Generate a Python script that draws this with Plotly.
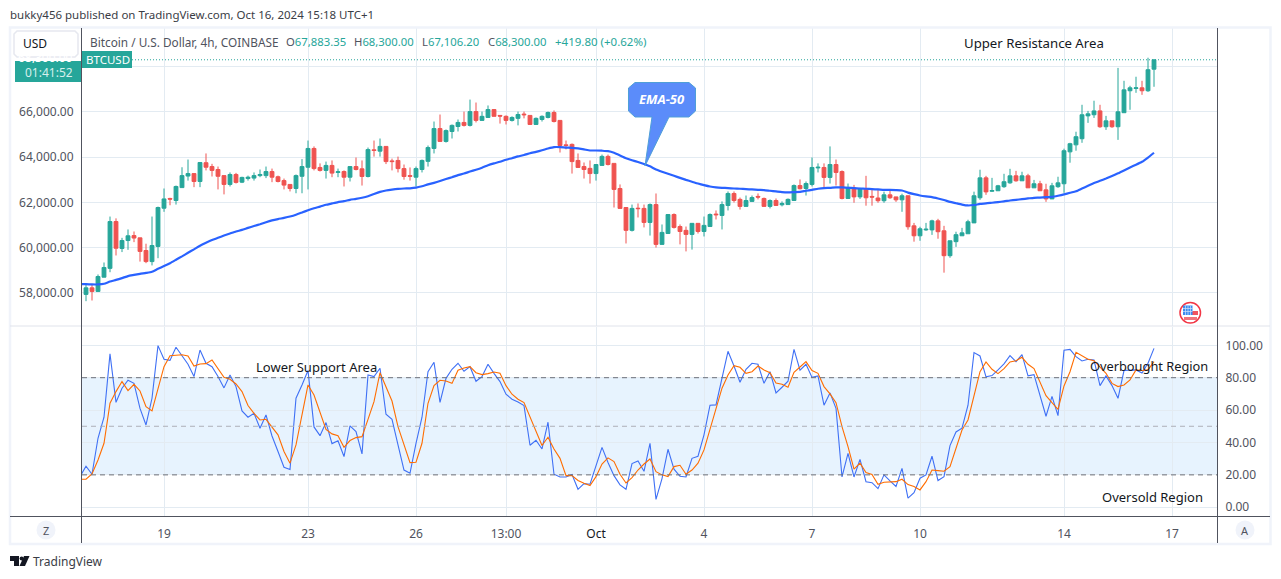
import pandas as pd
import plotly.graph_objects as go

# 4h candles
opens = [57930,58220,58060,58690,59080,61150,59960,60310,60530,60430,
         59870,59380,60050,61740,62170,62080,62650,63160,63270,62920,
         63750,63580,63450,63180,62790,63230,62890,63050,63070,63180,
         63180,63360,63130,62960,62790,62610,63150,63550,64380,63540,
         63410,63630,63320,63360,63110,63580,63480,63140,64320,64260,
         64470,63830,63850,63490,63180,63110,63450,63810,64380,65260,
         64690,65130,65350,65530,65400,66010,65620,65750,66100,65840,
         65800,65620,65710,65900,65840,65440,65660,65750,65970,65620,
         64540,64560,63850,63580,63500,63270,63630,64030,63720,62610,
         61770,60760,61740,61730,61110,61900,60140,60620,61460,60930,
         60760,60580,61070,60710,60930,61480,61420,61860,62390,62130,
         61820,62040,62260,62170,61820,62080,61890,61900,62080,62740,
         62610,62790,63520,63540,63100,63670,63360,62170,62630,62240,
         62600,62260,62190,62070,62330,62240,62110,62290,60960,60520,
         60780,60780,61180,60740,59640,60260,60520,60610,61090,62200,
         63080,62490,62510,62690,62860,63170,62950,63170,62640,62820,
         62550,62150,62690,62820,64230,64540,64810,65820,65870,66040,
         65340,65600,65340,65960,66930,67030,67060,66930,67883.35]
highs = [58400,58370,58810,59340,61370,61290,60430,60800,60710,60430,
         60170,61370,61810,62610,62200,62740,63550,63890,63270,63760,
         64160,63700,63580,63180,63320,63300,63130,63180,63320,63450,
         63580,63490,63180,63050,62790,63230,63910,64730,64470,63720,
         63800,63850,63490,63410,63580,63980,63850,64420,64730,64820,
         64470,63930,64020,63670,63540,63580,63890,64510,65570,65880,
         65220,65440,65660,66010,66540,66410,66010,66280,66100,65840,
         65840,65800,66010,66010,65840,65750,65840,66010,66060,65620,
         64730,64600,64160,63760,63850,63670,64110,64110,63720,62790,
         61770,61900,61950,61900,61950,62390,61020,61460,61510,61020,
         60930,61070,61070,61370,61510,61640,62040,62480,62480,62210,
         62300,62300,62390,62210,62130,62170,62040,62170,62790,63010,
         62920,63980,63720,63720,64470,63890,63410,62830,62770,62640,
         63170,62550,62550,62470,62510,62240,62380,62290,61090,60920,
         61090,61230,61270,60960,60300,60700,60870,61230,62470,63440,
         63170,63080,62770,63260,63480,63390,63350,63260,62990,62950,
         62820,62860,63130,64370,64630,65120,66310,66040,66490,66310,
         65820,65600,67940,67370,67150,67550,67370,68390,68300]
lows = [57630,57660,58060,58690,58910,59650,59800,59900,60240,59380,
        59310,59210,59530,61580,61870,61900,62650,62960,62670,62670,
        63410,63140,62570,62350,62700,62830,62850,62960,62960,63110,
        63070,62890,62880,62570,62480,62400,62400,62570,63410,63360,
        63050,63110,63110,62700,62920,63410,62740,63100,64020,64020,
        63690,63410,63320,63000,62960,62700,63320,63580,64160,64690,
        64640,64820,65130,65350,65350,65530,65620,65750,65800,65480,
        65440,65570,65400,65710,65440,65440,65570,65710,65530,64200,
        64340,63270,63540,63050,62830,62960,63630,63630,61770,61730,
        60180,60710,61330,60890,60530,60000,60140,60620,60840,60140,
        59830,59910,60620,60490,60930,61240,60800,61640,61990,61680,
        61820,62040,62130,61820,61730,61860,61820,61900,62080,62570,
        62300,62700,63320,62660,62830,62740,62130,62170,61980,62150,
        61850,61850,61980,61980,62150,62020,61580,60790,60260,60300,
        60740,60560,60390,58890,59550,60030,60520,60610,61090,62110,
        62330,62460,62510,62640,62820,62910,62950,62640,62640,62510,
        62020,62150,62640,62420,63750,64280,64630,65510,65730,65290,
        65200,65290,64760,65960,66090,66840,66750,66880,67106.20]
closes = [58220,58060,58720,59120,61150,59970,60310,60520,60420,59830,
          59380,60090,61770,62150,62140,62700,63180,63270,62920,63760,
          63550,63410,63150,62790,63230,62880,63100,63110,63180,63230,
          63360,63110,62920,62760,62610,63180,63580,64380,63490,63410,
          63630,63290,63350,63110,63580,63450,63140,64330,64290,64470,
          63800,63800,63490,63140,63150,63490,63850,64420,65260,64690,
          65170,65400,65530,65400,66010,65620,65800,66100,65800,65810,
          65620,65750,65880,65870,65440,65710,65800,65970,65570,64510,
          64510,63800,63540,63450,63270,63670,64030,63670,62570,61730,
          60760,61730,61720,61110,61900,60140,60670,61460,60890,60710,
          60580,61070,60710,60980,61460,61450,61900,62390,62080,61820,
          62080,62210,62230,61820,62080,61860,61950,62130,62740,62600,
          62830,63540,63550,63100,63670,63320,62170,62660,62240,62600,
          62200,62230,62070,62330,62200,62110,62290,60920,60520,60830,
          60810,61180,60700,59640,60300,60570,60650,61140,62290,63080,
          62460,62520,62730,62910,63170,62950,63170,62640,62820,62510,
          62150,62730,62860,64280,64590,64900,65870,65910,66040,65340,
          65600,65340,66000,66970,67060,67060,66930,67860,68300]

# these three start one bar earlier, the lines run in from the left edge
ema50 = [58380,58380,58370,58370,58400,58500,58570,58650,58740,58790,58840,
         58880,58930,59060,59180,59310,59460,59610,59770,59920,60080,
         60210,60330,60430,60530,60620,60710,60780,60870,60950,61030,
         61120,61200,61260,61310,61370,61450,61550,61650,61740,61810,
         61890,61950,62010,62050,62110,62150,62200,62270,62370,62460,
         62520,62560,62590,62610,62620,62650,62710,62790,62860,62940,
         63030,63110,63200,63270,63360,63440,63530,63640,63720,63790,
         63880,63950,64030,64090,64170,64230,64300,64380,64440,64440,
         64420,64410,64380,64340,64290,64290,64280,64260,64190,64070,
         63950,63860,63780,63690,63590,63450,63350,63260,63170,63080,
         62990,62910,62830,62760,62700,62660,62640,62630,62610,62600,
         62580,62570,62550,62540,62510,62480,62450,62440,62450,62460,
         62510,62550,62600,62630,62640,62660,62660,62640,62630,62610,
         62600,62580,62570,62550,62550,62540,62520,62430,62360,62300,
         62260,62230,62170,62100,62020,61960,61900,61860,61880,61930,
         61950,61980,62010,62040,62080,62110,62140,62170,62200,62210,
         62230,62240,62290,62350,62420,62490,62610,62730,62850,62950,
         63050,63160,63280,63410,63540,63660,63790,63980,64190]
stoch_k = [19,25.3,20.4,42.6,55.6,94.7,64.8,73.5,78.4,76.5,61,
           50.8,67.3,99.8,91.4,90.7,98.8,93.2,88.3,80.7,97.1,
           88.9,86.8,80.7,73.7,81.7,74.5,59.5,55.6,58,48.8,
           57,44,34.4,24.7,23.3,67.3,75.5,84.4,49.6,44.2,
           52.3,39.3,41,31.3,50.2,46.7,32.9,81.7,80.7,85.8,
           57.4,54.3,38.5,23,21,39.5,55.6,83.7,89.5,64.8,
           79.6,85.2,88.9,84,86.8,77.8,80.7,88.3,82.7,77.6,
           69.8,66.7,65,62.8,38.3,41.4,36,52.5,20.4,18.7,
           18.7,20.2,11.1,14.6,14.2,25.7,37,27.6,19.5,13.8,
           11.1,27,28.6,22.2,39.5,4.9,17.7,35.8,23.5,19.1,
           18.7,30.2,31.5,44.7,63,63.2,79.6,96.3,87.2,77.2,
           85.2,88.9,88.3,76.5,83.7,70.6,74.1,77.8,97.5,84.6,
           88.3,80.2,81.1,63,70.6,61.1,18.7,33.3,18.7,29.6,
           15.8,15.2,11.5,20,16.3,12.8,24,5.6,9,17.9,
           20,31.5,16.5,18.9,38.1,46.5,48.8,63,95.5,93.4,
           80.5,81.3,84.8,88.5,93.6,89.9,94.2,81.1,81.9,69.3,
           56.2,68.5,56.6,96.9,97.5,93,90.3,91.4,90.9,75.1,
           81.1,75.1,67.3,84.4,84.8,84.8,82.9,88.9,98.1]
stoch_d = [17.3,17.3,20.6,29.2,39.5,64.2,71.4,77.6,72,75.9,71.8,
           62.1,59.5,72.4,86.8,93.6,93.8,94.2,93.4,87.2,88.5,
           88.7,90.9,85.8,80.2,79,76.1,71.4,62.8,58,53.9,
           54.3,49.8,44.7,34.4,27.2,38.5,57,75.5,69.3,58.4,
           48.1,45.3,44.2,37,41.2,43,43.6,54.3,65.2,83.1,
           74.9,65.6,49.8,38.5,27.6,27.8,39.5,64.2,75.1,78.4,
           78,76.5,84.6,86,86.8,83.1,81.9,82.5,83.5,82.7,
           75.1,69.8,66.7,64.6,55.6,47.7,38.1,43.2,36,30.2,
           19.5,19.5,16.5,14.8,13.4,18.9,26.7,30.5,28.2,20.4,
           15,18.3,23,26.7,29.8,22,20,18.9,25.1,25.9,
           20.4,23,27.2,35.4,47.7,59.7,73.5,81.7,87.4,86.4,
           82.7,83.7,87.2,84.8,83.1,76.7,75.9,74.1,83.3,86.6,
           89.9,84.4,82.7,74.5,70,64.6,49.8,37.4,23.5,27.2,
           21.4,20.2,14.2,15.4,15.8,15.8,17.3,14,12.8,10.7,
           15.8,23,22.6,22.2,25.1,36.4,47.7,53.9,69.3,83.7,
           89.7,85.2,82.5,85.6,89.7,90.5,92.6,88.3,85.6,77.6,
           68.9,64.6,60.5,74.9,83.7,95.7,93.4,91.4,90.5,86.8,
           82.7,76.5,74.5,75.5,78.6,84.8,84.4,84.8,89.9]

x_tick_dates = ["2024-09-19", "2024-09-23", "2024-09-26", "2024-09-28 12:00", "2024-10-01",
                "2024-10-04", "2024-10-07", "2024-10-10", "2024-10-14", "2024-10-17"]
x_tick_labels = ["19", "23", "26", "13:00", "<span style='color:#131722'>Oct</span>",
                 "4", "7", "10", "14", "17"]
price_ticks = [58000, 60000, 62000, 64000, 66000, 68000]
price_labels = ["58,000.00", "60,000.00", "62,000.00", "64,000.00", "66,000.00", ""]
stoch_ticks = [0, 20, 40, 60, 80, 100]
stoch_labels = ["0.00", "20.00", "40.00", "60.00", "80.00", "100.00"]

line_times = pd.date_range("2024-09-16 16:00", periods=len(ema50), freq="4h")
bar_times = line_times[1:]

FONT = "Noto Sans"
TEAL = "#26a69a"
RED = "#ef5350"
GRID = "#e3ebf2"
AXIS = "#50535e"
W, H = 1281, 579


def px(x):
    return x / W


def py(y):
    return 1 - y / H


def poly(points, close=True):
    s = " ".join(("M" if i == 0 else "L") + f"{px(a):.5f},{py(b):.5f}" for i, (a, b) in enumerate(points))
    return s + (" Z" if close else "")


fig = go.Figure()
fig.add_trace(go.Candlestick(x=bar_times, open=opens, high=highs, low=lows, close=closes,
                             xaxis="x", yaxis="y", whiskerwidth=0,
                             increasing=dict(line=dict(color=TEAL, width=1), fillcolor=TEAL),
                             decreasing=dict(line=dict(color=RED, width=1), fillcolor=RED)))
fig.add_trace(go.Scatter(x=line_times, y=ema50, mode="lines", xaxis="x", yaxis="y",
                         line=dict(color="#2962ff", width=2.2, shape="spline", smoothing=0.5)))
fig.add_trace(go.Scatter(x=line_times, y=stoch_k, mode="lines", xaxis="x2", yaxis="y2",
                         line=dict(color="#3f70f5", width=1.1)))
fig.add_trace(go.Scatter(x=line_times, y=stoch_d, mode="lines", xaxis="x2", yaxis="y2",
                         line=dict(color="#ff6d00", width=1.1)))

shapes = []


def rect(x0, y0, x1, y1, fill="rgba(0,0,0,0)", line=None, width=1, layer="above"):
    shapes.append(dict(type="rect", xref="paper", yref="paper", x0=px(x0), y0=py(y0), x1=px(x1), y1=py(y1),
                       fillcolor=fill, line=dict(color=line or "rgba(0,0,0,0)", width=width if line else 0),
                       layer=layer))


def hline(x0, y0, x1, y1, color, width=1, dash="solid"):
    shapes.append(dict(type="line", xref="paper", yref="paper", x0=px(x0), y0=py(y0), x1=px(x1), y1=py(y1),
                       line=dict(color=color, width=width, dash=dash), layer="above"))


def level(value, color):
    shapes.append(dict(type="line", xref="paper", yref="y2", x0=px(82), x1=px(1217), y0=value, y1=value,
                       line=dict(color=color, width=1, dash="5px,4px"), layer="above"))


# stochastic band and its levels
shapes.append(dict(type="rect", xref="paper", yref="y2", x0=px(82), x1=px(1217), y0=20, y1=80,
                   fillcolor="rgba(33,150,243,0.11)", line=dict(width=0), layer="below"))
level(80, "#6d7079")
level(50, "#adb0b8")
level(20, "#6d7079")

# last price line
shapes.append(dict(type="line", xref="paper", yref="y", x0=px(132), x1=px(1217), y0=closes[-1], y1=closes[-1],
                   line=dict(color=TEAL, width=1, dash="1px,2px"), layer="above"))

# frame and pane borders
rect(10, 27.5, 1270.5, 544, line="#f0f3fa", width=2.5)
hline(10, 326, 1270, 326, "#e0e3eb")
hline(10, 516.5, 1270, 516.5, AXIS)
hline(81.5, 28, 81.5, 543, AXIS)
hline(1217.5, 28, 1217.5, 543, AXIS)

# price and symbol tags
rect(15, 61, 81, 82, fill=TEAL)
rect(82, 51, 132, 68, fill=TEAL)

# USD box
shapes.append(dict(type="path", xref="paper", yref="paper", layer="above", fillcolor="white",
                   line=dict(color="#e6e8ef", width=1.5),
                   path=poly([(17, 31), (75, 31), (78, 34), (78, 54), (75, 57), (17, 57), (14, 54), (14, 34)])))

# EMA-50 callout
shapes.append(dict(type="path", xref="paper", yref="paper", layer="above", fillcolor="#5b8cfa",
                   line=dict(color="#4f9fd8", width=1),
                   path=poly([(635, 82.5), (689, 82.5), (695.5, 88), (695.5, 111), (689, 117), (669, 117),
                              (645, 166), (652, 117), (635, 117), (628.5, 111), (628.5, 88)])))

# Z and A buttons
for cx in (46, 1245):
    shapes.append(dict(type="circle", xref="paper", yref="paper", x0=px(cx - 9.5), x1=px(cx + 9.5),
                       y0=py(539.5), y1=py(520.5), fillcolor="#f0f3fa", line=dict(width=0), layer="above"))

# flag badge
shapes.append(dict(type="circle", xref="paper", yref="paper", x0=px(1180), x1=px(1200.5), y0=py(323), y1=py(302.5),
                   fillcolor="white", line=dict(color="#f23645", width=1.5), layer="above"))
rect(1192, 311, 1198, 315, fill="#f0535f")
rect(1184, 317, 1197, 320, fill="#f0737c")
rect(1183, 305.5, 1192.5, 315, fill="#3d8bf0")
for gx in (1185.5, 1188, 1190.5):
    hline(gx, 306, gx, 315, "#cfe2fb", width=0.7)
for gy in (308.5, 311.5):
    hline(1183, gy, 1192.5, gy, "#cfe2fb", width=0.7)

# TradingView logo
shapes.append(dict(type="path", xref="paper", yref="paper", fillcolor="#131722", line=dict(width=0), layer="above",
                   path=poly([(10, 556), (19, 556), (19, 566), (14, 566), (14, 561), (10, 561)])))
shapes.append(dict(type="path", xref="paper", yref="paper", fillcolor="#131722", line=dict(width=0), layer="above",
                   path=poly([(24, 556), (29.5, 556), (25, 566), (19.5, 566)])))
shapes.append(dict(type="circle", xref="paper", yref="paper", x0=px(19.6), x1=px(23.6), y0=py(560.5), y1=py(556.5),
                   fillcolor="#131722", line=dict(width=0), layer="above"))


def label(text, x, y, size=12, color="#131722", anchor="left", **kw):
    # annotations carry about 2px of padding, take it back out
    nudge = {"left": -2, "right": 2, "center": 0}[anchor]
    return dict(text=text, xref="paper", yref="paper", x=px(x + nudge), y=py(y), xanchor=anchor, yanchor="middle",
                showarrow=False, font=dict(family=FONT, size=size, color=color), **kw)


dark = "#50535e"
green = "color:#26a69a"
annotations = [
    label("bukky456 published on TradingView.com, Oct 16, 2024 15:18 UTC+1", 10, 15, 11.5, "#3a3d46"),
    label("Bitcoin / U.S. Dollar, 4h, COINBASE", 90, 41.5, 11.8, dark),
    label(f"O<span style='{green}'>67,883.35</span>", 285.5, 41.5, 11.3, dark),
    label(f"H<span style='{green}'>68,300.00</span>", 354, 41.5, 11.3, dark),
    label(f"L<span style='{green}'>67,106.20</span>", 422, 41.5, 11.3, dark),
    label(f"C<span style='{green}'>68,300.00</span>", 488, 41.5, 11.3, dark),
    label("+419.80 (+0.62%)", 555, 41.5, 11.5, TEAL),
    label("USD", 23, 43.5, 12, "#131722", height=13),
    # only the bottom of the price shows, the rest is white on white above the tag
    label("68,300.00", 73, 58, 12, "white", "right", height=11),
    label("01:41:52", 73, 72.5, 12, "#d6f0ec", "right", height=13),
    label("BTCUSD", 86, 59.5, 11.5, "white"),
    label("<i><b>EMA-50</b></i>", 662, 99, 13, "white", "center"),
    label("Upper Resistance Area", 964, 43, 13.2),
    label("Lower Support Area", 256, 367, 13),
    label("Overbought Region", 1090, 366, 12.8),
    label("Oversold Region", 1102, 497, 13),
    label("Z", 46, 530, 11, dark, "center"),
    label("A", 1245, 530, 11, dark, "center"),
    label("TradingView", 33, 561, 12, "#3a3d46"),
]

x_range = ["2024-09-16 17:20", "2024-10-18 06:00"]
axis_common = dict(type="date", range=x_range, tickmode="array", tickvals=x_tick_dates, showgrid=True,
                   gridcolor=GRID, gridwidth=1, zeroline=False, showline=False, rangeslider=dict(visible=False),
                   domain=[px(82), px(1217)])
tick_font = dict(family=FONT, size=12, color=dark)

fig.update_layout(
    width=W, height=H, margin=dict(l=0, r=0, t=0, b=0), autosize=False,
    paper_bgcolor="white", plot_bgcolor="white", showlegend=False, hovermode=False,
    boxgap=0.36, boxgroupgap=0,
    xaxis=dict(**axis_common, anchor="y", showticklabels=False, ticks=""),
    xaxis2=dict(**axis_common, anchor="y2", ticktext=x_tick_labels, tickfont=tick_font,
                ticks="outside", ticklen=7, tickcolor="rgba(0,0,0,0)"),
    yaxis=dict(domain=[py(326), py(28)], range=[56533, 69704], tickmode="array", tickvals=price_ticks,
               ticktext=price_labels, side="left", anchor="x", gridcolor=GRID, zeroline=False,
               tickfont=tick_font, ticks="outside", ticklen=5, tickcolor="rgba(0,0,0,0)"),
    yaxis2=dict(domain=[py(516), py(327)], range=[-5.4, 111.3], tickmode="array", tickvals=stoch_ticks,
                ticktext=stoch_labels, side="right", anchor="x2", gridcolor=GRID, zeroline=False,
                tickfont=tick_font, ticks="outside", ticklen=5, tickcolor="rgba(0,0,0,0)"),
    shapes=shapes, annotations=annotations,
)

fig.write_html("out.html", config={"displayModeBar": False}, post_script="document.body.style.margin='0';")
